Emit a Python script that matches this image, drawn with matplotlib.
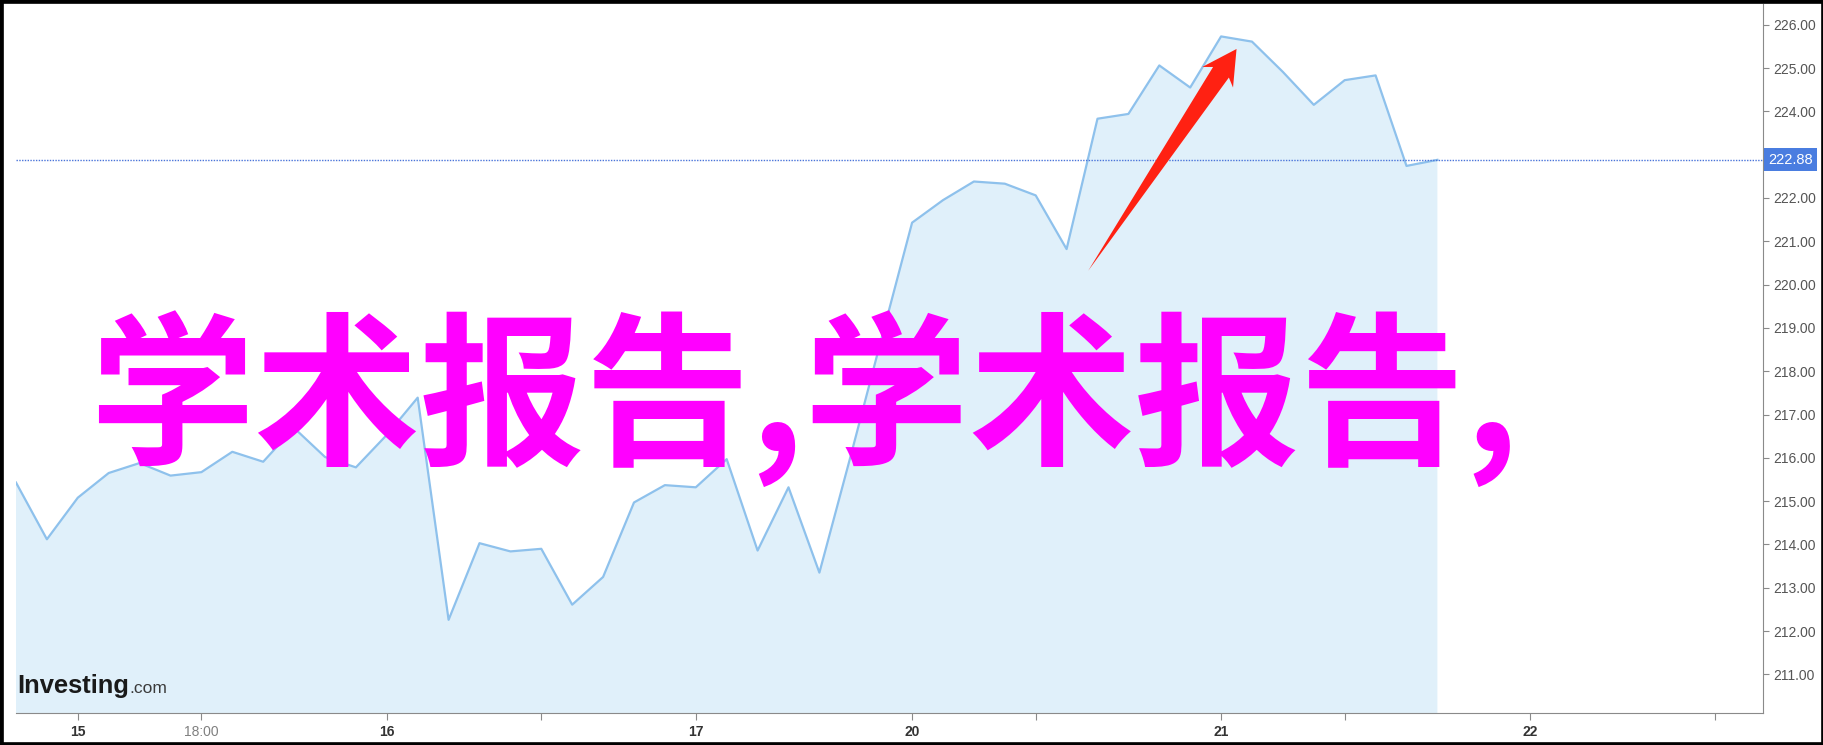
import numpy as np
import matplotlib.pyplot as plt
from matplotlib.patches import Rectangle, Polygon
from matplotlib.transforms import IdentityTransform, blended_transform_factory

# hourly closes
precos = [215.43, 214.12, 215.08, 215.65, 215.88, 215.59, 215.67, 216.14, 215.91, 216.69,
          216.02, 215.78, 216.53, 217.39, 212.26, 214.03, 213.84, 213.90, 212.61, 213.25,
          214.97, 215.37, 215.32, 215.97, 213.86, 215.32, 213.35, 216.01, 218.73, 221.43,
          221.95, 222.38, 222.33, 222.06, 220.82, 223.83, 223.94, 225.06, 224.55, 225.73,
          225.61, 224.91, 224.15, 224.72, 224.83, 222.74, 222.88]
ultimo = 222.88

# x tick positions (in sample index) and labels
pos_ticks = [2, 6, 12, 17, 22, 29, 33, 39, 43, 49, 55]
rot_ticks = ['15', '18:00', '16', '', '17', '20', '', '21', '', '22', '']
y_ticks = list(range(211, 227))

# arrow: from (index, price) to (index, price)
seta_ini = (34.7, 220.32)
seta_fim = (39.5, 225.44)

titulo = '学术报告,学术报告,'

plt.rcParams['font.family'] = ['Liberation Sans', 'DejaVu Sans']

fig = plt.figure(figsize=(18.24, 7.45), dpi=100)
ax = fig.add_axes([0.00877, 0.043, 0.9666 - 0.00877, 0.9953 - 0.043])

x = np.arange(len(precos))
ax.fill_between(x, precos, 200, color='#e0f0fa', lw=0)
ax.plot(x, precos, color='#8ec1ec', lw=1.6)
ax.axhline(ultimo, color='#4a74d9', ls=(0, (1, 1)), lw=1)

ax.set_xlim(0, 56.54)
ax.set_ylim(210.11, 226.49)

ax.spines['top'].set_visible(False)
ax.spines['left'].set_visible(False)
ax.spines['right'].set_color('#8a8a8a')
ax.spines['bottom'].set_color('#8a8a8a')

ax.yaxis.tick_right()
ax.set_yticks(y_ticks)
# 223 sits under the last-price tag
ax.set_yticklabels(['' if v == 223 else '%.2f' % v for v in y_ticks])
ax.tick_params(axis='y', direction='out', length=4, color='#8a8a8a',
               labelcolor='#555555', labelsize=10, pad=3)

ax.set_xticks(pos_ticks)
ax.set_xticklabels(rot_ticks)
ax.tick_params(axis='x', direction='out', length=5, color='#8a8a8a',
               labelsize=10, pad=4)
for lab in ax.get_xticklabels():
    if lab.get_text() == '18:00':
        lab.set_color('#808080')
    else:
        lab.set_color('#333333')
        lab.set_fontweight('bold')

# last price tag
ax.text(1.003, ultimo, '222.88', transform=ax.get_yaxis_transform(), color='white',
        fontsize=10.5, va='center', ha='left', clip_on=False,
        bbox=dict(boxstyle='square,pad=0.3', fc='#4a7de0', ec='none'))

# logo
logo = ax.text(0.0005, 0.028, 'Investing', transform=ax.transAxes, fontsize=18.4,
               fontweight='bold', color='#1a1a1a', ha='left', va='baseline')
fig.canvas.draw()
bb = logo.get_window_extent()
ax.text(bb.x1 + 1, 0.028, '.com',
        transform=blended_transform_factory(IdentityTransform(), ax.transAxes),
        fontsize=12.5, color='#3a3a3a', ha='left', va='baseline')

# red arrow (tapered shaft + head), built in pixels from the two data points
p0 = ax.transData.transform(seta_ini)
p1 = ax.transData.transform(seta_fim)
d = p1 - p0
d = d / np.hypot(*d)
n = np.array([-d[1], d[0]])
base_in = p1 - 28 * d
base_out = p1 - 34 * d
pts = [p0,
       base_in + 9.5 * n, base_out + 18.5 * n, p1,
       base_out - 18.5 * n, base_in - 9.5 * n]
fig.patches.append(Polygon(pts, closed=True, transform=IdentityTransform(),
                           fc='#ff2112', ec='none'))

# big overlay text
fig.text(0.4405, 0.4635, titulo, color='#ff00ff', fontsize=119, fontweight='bold',
         family=['Noto Sans CJK SC', 'DejaVu Sans'], ha='center', va='center')

# black frame
fig.patches.append(Rectangle((0, 0), 1, 1, transform=fig.transFigure, fill=False,
                             ec='black', lw=4.8))

fig.savefig('out.png', dpi=100)
